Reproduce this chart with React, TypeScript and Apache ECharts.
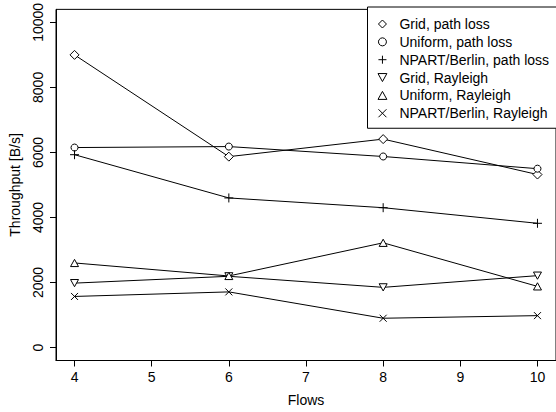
import React, { useEffect, useRef } from "react";
import * as echarts from "echarts";

const flows = [4, 6, 8, 10];
const xTicks = [4, 5, 6, 7, 8, 9, 10];
const yTicks = [0, 2000, 4000, 6000, 8000, 10000];

const gridPathLoss = [9000, 5870, 6410, 5320];
const uniformPathLoss = [6150, 6180, 5875, 5500];
const npartPathLoss = [5930, 4600, 4300, 3820];
const gridRayleigh = [1980, 2190, 1850, 2210];
const uniformRayleigh = [2600, 2200, 3220, 1880];
const npartRayleigh = [1570, 1710, 900, 980];

const seriesNames = [
  "Grid, path loss",
  "Uniform, path loss",
  "NPART/Berlin, path loss",
  "Grid, Rayleigh",
  "Uniform, Rayleigh",
  "NPART/Berlin, Rayleigh",
];
const seriesValues = [
  gridPathLoss,
  uniformPathLoss,
  npartPathLoss,
  gridRayleigh,
  uniformRayleigh,
  npartRayleigh,
];

const FONT = "'Liberation Sans', Arial, Helvetica, sans-serif";

const symbols = [
  "path://M5,0L10,5L5,10L0,5Z",
  "circle",
  "path://M0,5H10M5,0V10",
  "path://M0,0L10,0L5,9Z",
  "path://M5,0L10,9L0,9Z",
  "path://M0,0L10,10M10,0L0,10",
];
const symbolSizes = [9, 7, 9, 8, 8, 7];

export default function App() {
  const ref = useRef<HTMLDivElement>(null);

  useEffect(() => {
    if (!ref.current) return;
    const chart = echarts.init(ref.current, null, { renderer: "svg" });
    const option: any = {
      animation: false,
      backgroundColor: "#fff",
      textStyle: { fontFamily: FONT, color: "#000" },
      grid: {
        show: true,
        left: 55.4,
        top: 7.5,
        width: 504,
        height: 355.4,
        borderColor: "#000",
        borderWidth: 1,
        backgroundColor: "transparent",
      },
      legend: {
        orient: "vertical",
        left: 367.5,
        top: 7,
        padding: [10, 25, 8, 10],
        itemWidth: 24,
        itemHeight: 8,
        itemGap: 3.85,
        symbolKeepAspect: true,
        borderColor: "#000",
        borderWidth: 1,
        backgroundColor: "#fff",
        itemStyle: { color: "#fff", borderColor: "#000", borderWidth: 1 },
        textStyle: { fontFamily: FONT, fontSize: 14, color: "#000" },
        data: seriesNames.map((n, i) => ({ name: n, icon: symbols[i] })),
      },
      xAxis: {
        type: "value",
        min: 3.76,
        max: 10.24,
        name: "Flows",
        nameLocation: "middle",
        nameGap: 32.5,
        nameTextStyle: { fontFamily: FONT, fontSize: 14, color: "#000" },
        axisLine: { show: true, onZero: false, lineStyle: { color: "#000", width: 1 } },
        axisTick: { show: true, length: 6, lineStyle: { color: "#000" }, customValues: xTicks },
        axisLabel: {
          customValues: xTicks,
          formatter: (v: number) => String(v),
          fontFamily: FONT,
          fontSize: 14,
          color: "#000",
          margin: 9,
        },
        splitLine: { show: false },
      },
      yAxis: {
        type: "value",
        min: -400,
        max: 10400,
        name: "Throughput [B/s]",
        nameLocation: "middle",
        nameGap: 34,
        nameTextStyle: { fontFamily: FONT, fontSize: 14, color: "#000" },
        axisLine: { show: true, onZero: false, lineStyle: { color: "#000", width: 1 } },
        axisTick: { show: true, length: 6, lineStyle: { color: "#000" }, customValues: yTicks },
        axisLabel: {
          customValues: yTicks,
          formatter: (v: number) => String(v),
          rotate: 90,
          fontFamily: FONT,
          fontSize: 14,
          color: "#000",
          margin: 11,
        },
        splitLine: { show: false },
      },
      series: seriesNames.map((n, i) => ({
        name: n,
        type: "line",
        data: flows.map((f, j) => [f, seriesValues[i][j]]),
        symbol: symbols[i],
        symbolSize: symbolSizes[i],
        symbolKeepAspect: true,
        showAllSymbol: true,
        lineStyle: { color: "#000", width: 1 },
        itemStyle: { color: "#fff", borderColor: "#000", borderWidth: 1 },
        emphasis: { disabled: true },
        z: 2,
      })),
    };
    chart.setOption(option);
    return () => chart.dispose();
  }, []);

  return (
    <div
      ref={ref}
      style={{ position: "absolute", left: 0, top: 0, width: 556, height: 412 }}
    />
  );
}
